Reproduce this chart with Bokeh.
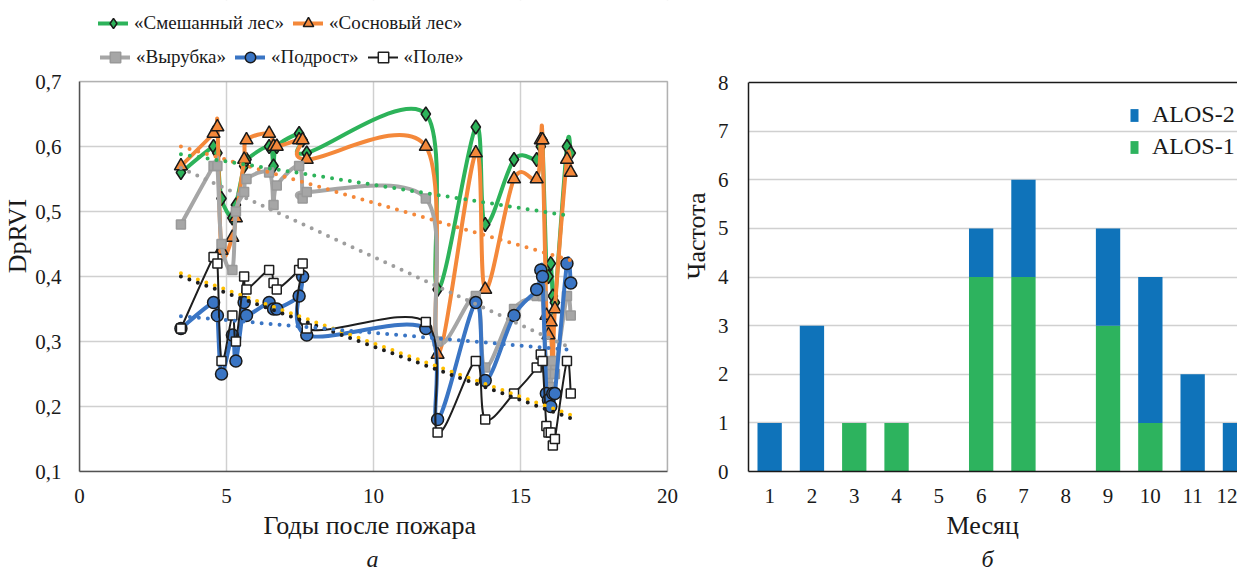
import numpy as np
from bokeh.plotting import figure
from bokeh.layouts import row
from bokeh.models import (Range1d, FixedTicker, Legend, LegendItem, Title, Span,
                          BoxAnnotation, ColumnDataSource)
from bokeh.embed import file_html
from bokeh.resources import INLINE

FONT = "Liberation Serif"

# ---------------- data: left chart ----------------
years = [3.45, 4.56, 4.69, 4.83, 5.2, 5.32, 5.6, 5.68, 6.45, 6.6, 6.71, 7.47, 7.59, 7.73,
         11.78, 12.18, 13.48, 13.8, 14.78, 15.55, 15.69, 15.75, 15.88, 15.95, 16.03, 16.1,
         16.17, 16.58, 16.71]
mixed = [0.56, 0.60, 0.59, 0.52, 0.49, 0.51, 0.57, 0.58, 0.60, 0.57, 0.60, 0.62, 0.61, 0.59,
         0.65, 0.38, 0.63, 0.48, 0.58, 0.58, 0.60, 0.61, 0.41, 0.40, 0.42, 0.37, 0.36, 0.60, 0.59]
pine = [0.57, 0.62, 0.63, 0.44, 0.46, 0.49, 0.58, 0.61, 0.62, 0.60, 0.60, 0.61, 0.61, 0.58,
        0.60, 0.28, 0.59, 0.38, 0.55, 0.55, 0.61, 0.61, 0.34, 0.31, 0.33, 0.25, 0.35, 0.58, 0.56]
clearcut = [0.48, 0.57, 0.57, 0.45, 0.41, 0.50, 0.53, 0.55, 0.56, 0.51, 0.54, 0.57, 0.52, 0.53,
            0.52, 0.30, 0.37, 0.26, 0.35, 0.37, 0.38, 0.37, 0.26, 0.25, 0.23, 0.27, 0.25, 0.37, 0.34]
regrowth = [0.32, 0.36, 0.34, 0.25, 0.31, 0.27, 0.36, 0.34, 0.36, 0.35, 0.35, 0.37, 0.40, 0.31,
            0.32, 0.18, 0.36, 0.24, 0.34, 0.38, 0.41, 0.40, 0.22, 0.21, 0.20, 0.22, 0.22, 0.42, 0.39]
field = [0.32, 0.43, 0.42, 0.27, 0.34, 0.30, 0.40, 0.38, 0.41, 0.39, 0.38, 0.41, 0.42, 0.32,
         0.33, 0.16, 0.27, 0.18, 0.22, 0.26, 0.28, 0.27, 0.17, 0.16, 0.16, 0.14, 0.15, 0.27, 0.22]

# linear trend lines (end points)
trend_x = [3.45, 16.71]
trend_mixed = [0.588, 0.493]
trend_pine = [0.600, 0.425]
trend_clearcut = [0.567, 0.290]
trend_regrowth = [0.339, 0.287]
trend_field = [0.400, 0.182]
trend_yellow = [0.405, 0.187]

x_ticks = [0, 5, 10, 15, 20]
y_ticks = [0.1, 0.2, 0.3, 0.4, 0.5, 0.6, 0.7]
y_tick_labels = ["0,1", "0,2", "0,3", "0,4", "0,5", "0,6", "0,7"]

# ---------------- data: right chart ----------------
months = [1, 2, 3, 4, 5, 6, 7, 8, 9, 10, 11, 12]
alos1 = [0, 0, 1, 1, 0, 4, 4, 0, 3, 1, 0, 0]
alos2 = [1, 3, 0, 0, 0, 1, 2, 0, 2, 3, 2, 1]
count_ticks = [0, 1, 2, 3, 4, 5, 6, 7, 8]

GREEN = "#2DB35A"
ORANGE = "#F4883A"
GRAY = "#A6A6A6"
BLUE = "#3A75C4"
BLACK = "#1E1E1E"
YELLOW = "#FFC000"
BAR_BLUE = "#0F73BA"
BAR_GREEN = "#2DB35E"
TXT = "#1a1a1a"

# layout (pixels): both figures get identical borders so that row alignment
# cannot move their frames; frames start at the top of the canvas.
BORDER_L = 69
BORDER_B = 101
FRAME_H = 471            # canvas top down to the value-axis baseline
PLOT1_H = 390            # drawn height of the left chart (0.1 .. 0.7)
PLOT2_H = 389            # drawn height of the right chart (0 .. 8)
PX_PER_YEAR = 29.4
PX_PER_MONTH = 42.3


def bezier_source(xs, ys):
    x = np.asarray(xs, float)
    y = np.asarray(ys, float)
    xp = np.concatenate([[x[0]], x, [x[-1]]])
    yp = np.concatenate([[y[0]], y, [y[-1]]])
    i = np.arange(len(x) - 1)
    return ColumnDataSource(dict(
        x0=x[:-1], y0=y[:-1], x1=x[1:], y1=y[1:],
        cx0=x[:-1] + (xp[i + 2] - xp[i]) / 6.0,
        cy0=y[:-1] + (yp[i + 2] - yp[i]) / 6.0,
        cx1=x[1:] - (xp[i + 3] - xp[i + 1]) / 6.0,
        cy1=y[1:] - (yp[i + 3] - yp[i + 1]) / 6.0,
    ))


def style_axes(p):
    for ax in (p.xaxis, p.yaxis):
        ax.major_tick_line_color = None
        ax.minor_tick_line_color = None
        ax.major_label_text_font = FONT
        ax.major_label_text_font_size = "21px"
        ax.major_label_text_color = TXT
        ax.axis_label_text_font = FONT
        ax.axis_label_text_font_size = "26px"
        ax.axis_label_text_font_style = "normal"
        ax.axis_label_text_color = TXT
        ax.axis_line_width = 1.5
    p.xaxis.major_label_standoff = 11


def add_bottom_titles(p, label, label_offset, caption, caption_offset):
    p.add_layout(Title(text=label, align="left", offset=label_offset, text_font=FONT,
                       text_font_size="26px", text_font_style="normal", text_color=TXT,
                       standoff=7), "below")
    p.add_layout(Title(text=caption, align="left", offset=caption_offset, text_font=FONT,
                       text_font_size="24px", text_font_style="italic", text_color=TXT,
                       standoff=0), "below")


# ---------------- left figure ----------------
fw1 = 599                                   # 588 px chart + blank gap
y_top1 = 0.1 + 0.6 * FRAME_H / PLOT1_H
x_end1 = fw1 / PX_PER_YEAR
p1 = figure(frame_width=fw1, frame_height=FRAME_H, x_range=Range1d(0, x_end1),
            y_range=Range1d(0.1, y_top1),
            output_backend="svg", toolbar_location=None,
            min_border_left=BORDER_L, min_border_right=0, min_border_top=0,
            min_border_bottom=BORDER_B)
p1.outline_line_color = None

p1.xaxis.ticker = FixedTicker(ticks=x_ticks)
p1.xaxis.bounds = (0, 20)
p1.yaxis.ticker = FixedTicker(ticks=y_ticks)
p1.yaxis.major_label_overrides = {t: l for t, l in zip(y_ticks, y_tick_labels)}
p1.yaxis.bounds = (0.1, 0.7)
p1.xgrid.ticker = FixedTicker(ticks=x_ticks)
p1.ygrid.ticker = FixedTicker(ticks=y_ticks)
for g in (p1.xgrid, p1.ygrid):
    g.grid_line_color = "#D0D0D0"
    g.grid_line_width = 1.5
style_axes(p1)
p1.yaxis.major_label_standoff = 12
p1.yaxis.axis_label_standoff = 0
p1.xaxis.axis_line_color = "#595959"
p1.yaxis.axis_line_color = "#595959"
p1.yaxis.axis_label = "DpRVI"

series = [
    ("«Смешанный лес»", mixed, GREEN, 4, dict(marker="diamond", size=14,
                                              fill_color=GREEN, line_color=TXT, line_width=1.5)),
    ("«Сосновый лес»", pine, ORANGE, 4, dict(marker="triangle", size=13,
                                            fill_color=ORANGE, line_color=TXT, line_width=1.5)),
    ("«Вырубка»", clearcut, GRAY, 4, dict(marker="square", size=9,
                                         fill_color=GRAY, line_color="#999999", line_width=1.5)),
    ("«Подрост»", regrowth, BLUE, 4, dict(marker="circle", size=12,
                                         fill_color=BLUE, line_color=TXT, line_width=1.5)),
    ("«Поле»", field, BLACK, 2, dict(marker="square", size=9,
                                    fill_color="white", line_color=BLACK, line_width=1.5)),
]

legend_items = []
for label, ys, color, lw, mk in series:
    src = bezier_source(years, ys)
    lr = p1.bezier(x0="x0", y0="y0", x1="x1", y1="y1", cx0="cx0", cy0="cy0",
                   cx1="cx1", cy1="cy1", source=src, line_color=color, line_width=lw,
                   line_cap="round")
    sr = p1.scatter(x=years, y=ys, **mk)
    legend_items.append(LegendItem(label=label, renderers=[lr, sr]))

for ys, color in [(trend_yellow, YELLOW), (trend_field, BLACK), (trend_regrowth, BLUE),
                  (trend_clearcut, "#9E9E9E"), (trend_pine, ORANGE), (trend_mixed, GREEN)]:
    p1.line(x=trend_x, y=ys, line_color=color, line_width=4, line_dash="0 9",
            line_cap="round")

# blank the area outside the chart box and draw the chart border
p1.add_layout(BoxAnnotation(bottom=0.7, fill_color="white", fill_alpha=1.0, line_color=None))
p1.add_layout(BoxAnnotation(left=20, fill_color="white", fill_alpha=1.0, line_color=None))
p1.add_layout(BoxAnnotation(left=0, right=20, bottom=0.1, top=0.7, fill_alpha=0.0,
                            line_color="#333333", line_width=1.5))

leg_kw = dict(orientation="horizontal", label_text_font=FONT, label_text_font_size="19px",
              label_text_color=TXT, glyph_width=30, glyph_height=26,
              label_standoff=6, spacing=9, border_line_alpha=0, background_fill_alpha=0,
              padding=0, margin=0)
# positions are in screen pixels from the frame's bottom-left corner
leg_row2 = Legend(items=legend_items[2:], location=(21, 401), **leg_kw)
leg_row1 = Legend(items=legend_items[:2], location=(19, 435), **leg_kw)
p1.add_layout(leg_row2)
p1.add_layout(leg_row1)

add_bottom_titles(p1, "Годы после пожара", 184, "а", 287)

# ---------------- right figure ----------------
fw2 = 489
x_start2 = 0.5
x_end2 = x_start2 + fw2 / PX_PER_MONTH
y_top2 = 8 * FRAME_H / PLOT2_H
p2 = figure(frame_width=fw2, frame_height=FRAME_H, x_range=Range1d(x_start2, x_end2),
            y_range=Range1d(0, y_top2),
            output_backend="svg", toolbar_location=None,
            min_border_left=BORDER_L, min_border_right=0, min_border_top=0,
            min_border_bottom=BORDER_B)
p2.outline_line_color = None
p2.xgrid.grid_line_color = None
p2.ygrid.ticker = FixedTicker(ticks=count_ticks[1:-1])
p2.ygrid.grid_line_color = "#D0D0D0"
p2.ygrid.grid_line_width = 1.5
p2.xaxis.ticker = FixedTicker(ticks=months)
p2.yaxis.ticker = FixedTicker(ticks=count_ticks)
p2.yaxis.bounds = (0, 8)
style_axes(p2)
p2.yaxis.major_label_standoff = 14
p2.yaxis.axis_label_standoff = 4
p2.xaxis.axis_line_color = TXT
p2.yaxis.axis_line_color = TXT
p2.yaxis.axis_label = "Частота"

bsrc = ColumnDataSource(dict(month=months, alos1=alos1, alos2=alos2))
rs = p2.vbar_stack(["alos1", "alos2"], x="month", width=0.575, source=bsrc,
                   fill_color=[BAR_GREEN, BAR_BLUE], line_color=None)
p2.add_layout(Span(location=8, dimension="width", line_color=TXT, line_width=1.5))

leg2 = Legend(items=[LegendItem(label="ALOS-2", renderers=[rs[1]]),
                     LegendItem(label="ALOS-1", renderers=[rs[0]])],
              location=(381, 311), glyph_width=10, glyph_height=16, label_standoff=13,
              spacing=5, label_text_font=FONT, label_text_font_size="24px",
              label_text_color=TXT, border_line_alpha=0, background_fill_alpha=0,
              padding=0, margin=0)
p2.add_layout(leg2)

add_bottom_titles(p2, "Месяц", 198, "б", 233)

layout = row(p1, p2)
open("out.html", "w").write(file_html(layout, INLINE))
